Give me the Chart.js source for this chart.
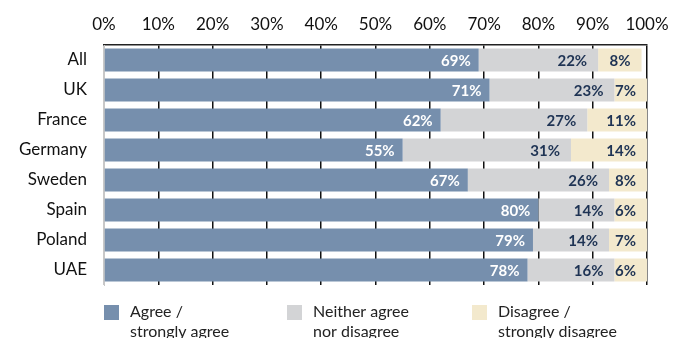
<!DOCTYPE html>
<html>
<head>
<meta charset="utf-8">
<script src="https://cdn.jsdelivr.net/npm/chart.js@4/dist/chart.umd.min.js"></script>
<style>
  html, body { margin: 0; padding: 0; background: #fff; }
  #wrap { position: relative; width: 685px; height: 338px; }
</style>
</head>
<body>
<div id="wrap"><canvas id="chart" width="685" height="338"></canvas></div>
<script>
const countries = ['All', 'UK', 'France', 'Germany', 'Sweden', 'Spain', 'Poland', 'UAE'];
const agree    = [69, 71, 62, 55, 67, 80, 79, 78];
const neither  = [22, 23, 27, 31, 26, 14, 14, 16];
const disagree = [8, 7, 11, 14, 8, 6, 7, 6];
const seriesNames = [['Agree /', 'strongly agree'], ['Neither agree', 'nor disagree'], ['Disagree /', 'strongly disagree']];
const xTicks = [0, 10, 20, 30, 40, 50, 60, 70, 80, 90, 100];

const colours = ['#768fad', '#d3d4d6', '#f3e9cd'];
const labelColours = ['#ffffff', '#1e3354', '#1e3354'];
const labelPad = [8, 11, 11];
const FONT = 'Lato, "Noto Sans", sans-serif';

// value labels drawn right-aligned inside each segment
const segmentLabels = {
    id: 'segmentLabels',
    afterDatasetsDraw(chart) {
        const ctx = chart.ctx;
        ctx.save();
        ctx.font = 'bold 15px ' + FONT;
        ctx.textAlign = 'right';
        ctx.textBaseline = 'middle';
        chart.data.datasets.forEach((ds, i) => {
            const meta = chart.getDatasetMeta(i);
            meta.data.forEach((bar, j) => {
                const end = Math.min(bar.x, chart.chartArea.right);
                ctx.fillStyle = labelColours[i];
                ctx.fillText(ds.data[j] + '%', end - labelPad[i], bar.y + 1);
            });
        });
        ctx.restore();
    }
};

// two-line legend under the plot
const bottomLegend = {
    id: 'bottomLegend',
    afterDraw(chart) {
        const ctx = chart.ctx;
        const xs = [104, 287, 472];
        ctx.save();
        ctx.font = '16px ' + FONT;
        ctx.textBaseline = 'middle';
        ctx.textAlign = 'left';
        chart.data.datasets.forEach((ds, i) => {
            ctx.fillStyle = ds.backgroundColor;
            ctx.fillRect(xs[i], 305, 15, 15);
            ctx.fillStyle = '#222';
            ds.label.forEach((line, k) => {
                ctx.fillText(line, xs[i] + 26, 312 + k * 20);
            });
        });
        ctx.restore();
    }
};

new Chart(document.getElementById('chart'), {
    type: 'bar',
    data: {
        labels: countries,
        datasets: [agree, neither, disagree].map((d, i) => ({
            label: seriesNames[i],
            data: d,
            backgroundColor: colours[i],
            borderWidth: 0,
            barPercentage: 0.77,
            categoryPercentage: 1
        }))
    },
    options: {
        indexAxis: 'y',
        responsive: false,
        animation: false,
        layout: { padding: { top: 0, right: 38, bottom: 53, left: 0 } },
        plugins: {
            legend: { display: false },
            tooltip: { enabled: false }
        },
        scales: {
            x: {
                position: 'top',
                stacked: true,
                min: 0,
                max: 100,
                afterFit: s => { s.height = 45; },
                afterBuildTicks: s => { s.ticks = xTicks.map(v => ({ value: v })); },
                grid: {
                    drawTicks: false,
                    color: c => c.tick && c.tick.value === 0 ? '#c8c8c8' : '#111',
                    lineWidth: 1.5
                },
                border: { display: true, color: '#222', width: 1.5 },
                ticks: {
                    padding: 10,
                    color: '#111',
                    font: { family: FONT, size: 17 },
                    callback: v => v + '%'
                }
            },
            y: {
                stacked: true,
                afterFit: s => { s.width = 104; },
                grid: { display: false, drawTicks: false },
                border: { display: true, color: '#c8c8c8', width: 1 },
                ticks: {
                    padding: 17,
                    color: '#111',
                    font: { family: FONT, size: 17 }
                }
            }
        }
    },
    plugins: [segmentLabels, bottomLegend]
});
</script>
</body>
</html>
